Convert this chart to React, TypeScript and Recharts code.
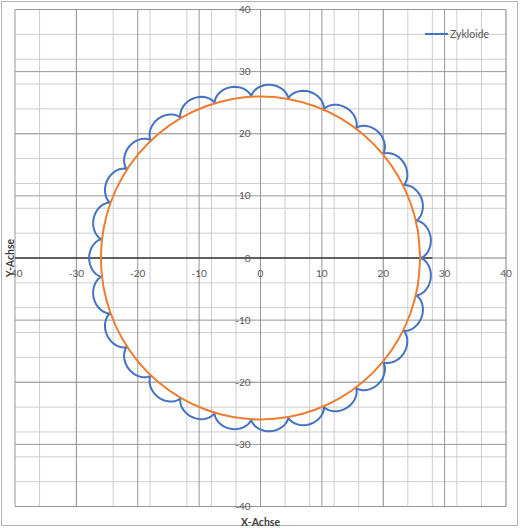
import React from 'react';
import {
  ScatterChart,
  Scatter,
  XAxis,
  YAxis,
  CartesianGrid,
  ReferenceLine,
  ReferenceDot,
  Legend,
} from 'recharts';

// Haupt-Achsenbeschriftungen (alle 10 Einheiten)
const achsenTicks = [-40, -30, -20, -10, 0, 10, 20, 30, 40];
// Nebengitter (alle 2 Einheiten)
const gitterTicks = [
  -40, -38, -36, -34, -32, -30, -28, -26, -24, -22, -20, -18, -16, -14, -12, -10, -8, -6, -4, -2, 0,
  2, 4, 6, 8, 10, 12, 14, 16, 18, 20, 22, 24, 26, 28, 30, 32, 34, 36, 38, 40,
];

// Zykloide: Winkel der 27 Spitzen (Grad) auf dem Grundkreis
const spitzenWinkel = [
  0, 13.333, 26.667, 40, 53.333, 66.667, 80, 93.333, 106.667, 120, 133.333, 146.667, 160, 173.333,
  186.667, 200, 213.333, 226.667, 240, 253.333, 266.667, 280, 293.333, 306.667, 320, 333.333, 346.667,
];
// Profil eines Bogens: Winkelversatz (Grad) ab der Spitze und Abstand vom Mittelpunkt
const bogenWinkel = [
  0, 0.007, 0.055, 0.183, 0.418, 0.784, 1.288, 1.931, 2.704, 3.589, 4.563, 5.599, 6.667, 7.734,
  8.77, 9.744, 10.629, 11.402, 12.045, 12.549, 12.915, 13.15, 13.278, 13.326,
];
const bogenRadius = [
  26.0, 26.034, 26.133, 26.291, 26.495, 26.73, 26.98, 27.228, 27.457, 27.652, 27.801, 27.894, 27.926,
  27.894, 27.801, 27.652, 27.457, 27.228, 26.98, 26.73, 26.495, 26.291, 26.133, 26.034,
];

// Grundkreis (Radius 26)
const kreisX = [
  26, 25.61, 24.43, 22.52, 19.92, 16.71, 13, 8.89, 4.51, 0, -4.51, -8.89, -13, -16.71, -19.92, -22.52,
  -24.43, -25.61, -26, -25.61, -24.43, -22.52, -19.92, -16.71, -13, -8.89, -4.51, 0, 4.51, 8.89, 13,
  16.71, 19.92, 22.52, 24.43, 25.61, 26,
];
const kreisY = [
  0, 4.51, 8.89, 13, 16.71, 19.92, 22.52, 24.43, 25.61, 26, 25.61, 24.43, 22.52, 19.92, 16.71, 13,
  8.89, 4.51, 0, -4.51, -8.89, -13, -16.71, -19.92, -22.52, -24.43, -25.61, -26, -25.61, -24.43,
  -22.52, -19.92, -16.71, -13, -8.89, -4.51, 0,
];

const toXY = (winkelGrad: number, r: number) => {
  const a = (winkelGrad * Math.PI) / 180;
  return { x: r * Math.cos(a), y: r * Math.sin(a) };
};

const zykloideData = [
  ...spitzenWinkel.flatMap((s) => bogenWinkel.map((w, i) => toXY(s + w, bogenRadius[i]))),
  toXY(360, bogenRadius[0]),
];
const kreisData = kreisX.map((x, i) => ({ x, y: kreisY[i] }));

const FONT = 'Lato, "Open Sans", sans-serif';
const TEXT = '#595959';

const noPoint = () => <g />;

const xTickShape = (v: number) => (p: any) => (
  <text x={p.cx} y={p.cy + 15} dy="0.35em" textAnchor="middle" fontSize={10} fontFamily={FONT} fill={TEXT}>
    {v}
  </text>
);
const yTickShape = (v: number) => (p: any) => (
  <text x={p.cx - 10} y={p.cy} dy="0.35em" textAnchor="end" fontSize={10} fontFamily={FONT} fill={TEXT}>
    {v}
  </text>
);

const renderLegend = (props: any) => {
  const items = (props.payload || []).filter((e: any) => e.type !== 'none');
  return (
    <div style={{ display: 'flex', flexDirection: 'column' }}>
      {items.map((e: any) => (
        <div key={e.value} style={{ display: 'flex', alignItems: 'center', height: 12 }}>
          <svg width={25} height={12} style={{ display: 'block' }}>
            <line x1={0} y1={6} x2={23} y2={6} stroke={e.color} strokeWidth={2} />
          </svg>
          <span style={{ fontFamily: FONT, fontSize: 10.5, color: TEXT, lineHeight: '12px' }}>{e.value}</span>
        </div>
      ))}
    </div>
  );
};

export default function App() {
  return (
    <div style={{ position: 'absolute', left: 0, top: 0, width: 520, height: 529, background: '#fff' }}>
      <div
        style={{
          position: 'absolute',
          left: 1,
          top: 1,
          width: 517,
          height: 525,
          border: '1px solid #b4b4b4',
          boxSizing: 'border-box',
        }}
      />
      <div style={{ position: 'absolute', left: 0, top: 0 }}>
        <ScatterChart width={520} height={529} margin={{ top: 9.5, right: 14, bottom: 22.5, left: 15 }}>
          <CartesianGrid horizontalValues={gitterTicks} verticalValues={gitterTicks} stroke="#cdcdcd" strokeWidth={1} />
          <CartesianGrid horizontalValues={achsenTicks} verticalValues={achsenTicks} stroke="#979797" strokeWidth={1} />
          <XAxis type="number" dataKey="x" domain={[-40, 40]} ticks={achsenTicks} hide allowDataOverflow />
          <YAxis type="number" dataKey="y" domain={[-40, 40]} ticks={achsenTicks} hide allowDataOverflow />
          <ReferenceLine segment={[{ x: -40, y: 0 }, { x: 28, y: 0 }]} stroke="#000" strokeWidth={1} />
          <Scatter
            name="Zykloide"
            data={zykloideData}
            fill="#4472C4"
            line={{ stroke: '#4472C4', strokeWidth: 2 }}
            lineType="joint"
            lineJointType="linear"
            shape={noPoint}
            legendType="line"
            isAnimationActive={false}
          />
          <Scatter
            name="Kreis"
            data={kreisData}
            fill="#ED7D31"
            line={{ stroke: '#ED7D31', strokeWidth: 2 }}
            lineType="joint"
            lineJointType="natural"
            shape={noPoint}
            legendType="none"
            isAnimationActive={false}
          />
          {achsenTicks.map((v) => (
            <ReferenceDot key={'xt' + v} x={v} y={0} r={0} shape={xTickShape(v)} />
          ))}
          {achsenTicks.map((v) => (
            <ReferenceDot key={'yt' + v} x={0} y={v} r={0} shape={yTickShape(v)} />
          ))}
          <Legend
            content={renderLegend}
            layout="horizontal"
            verticalAlign="middle"
            align="center"
            wrapperStyle={{ position: 'absolute', left: 425, top: 28, width: 90, height: 12 }}
          />
        </ScatterChart>
      </div>
      <div
        style={{
          position: 'absolute',
          left: 260.5,
          top: 521.5,
          transform: 'translate(-50%, -50%)',
          fontFamily: FONT,
          fontWeight: 'bold',
          fontSize: 10.5,
          color: '#404040',
          whiteSpace: 'nowrap',
        }}
      >
        X-Achse
      </div>
      <div
        style={{
          position: 'absolute',
          left: 10,
          top: 258,
          transform: 'translate(-50%, -50%) rotate(-90deg)',
          fontFamily: FONT,
          fontWeight: 'bold',
          fontSize: 10.5,
          color: '#404040',
          whiteSpace: 'nowrap',
        }}
      >
        Y-Achse
      </div>
    </div>
  );
}
